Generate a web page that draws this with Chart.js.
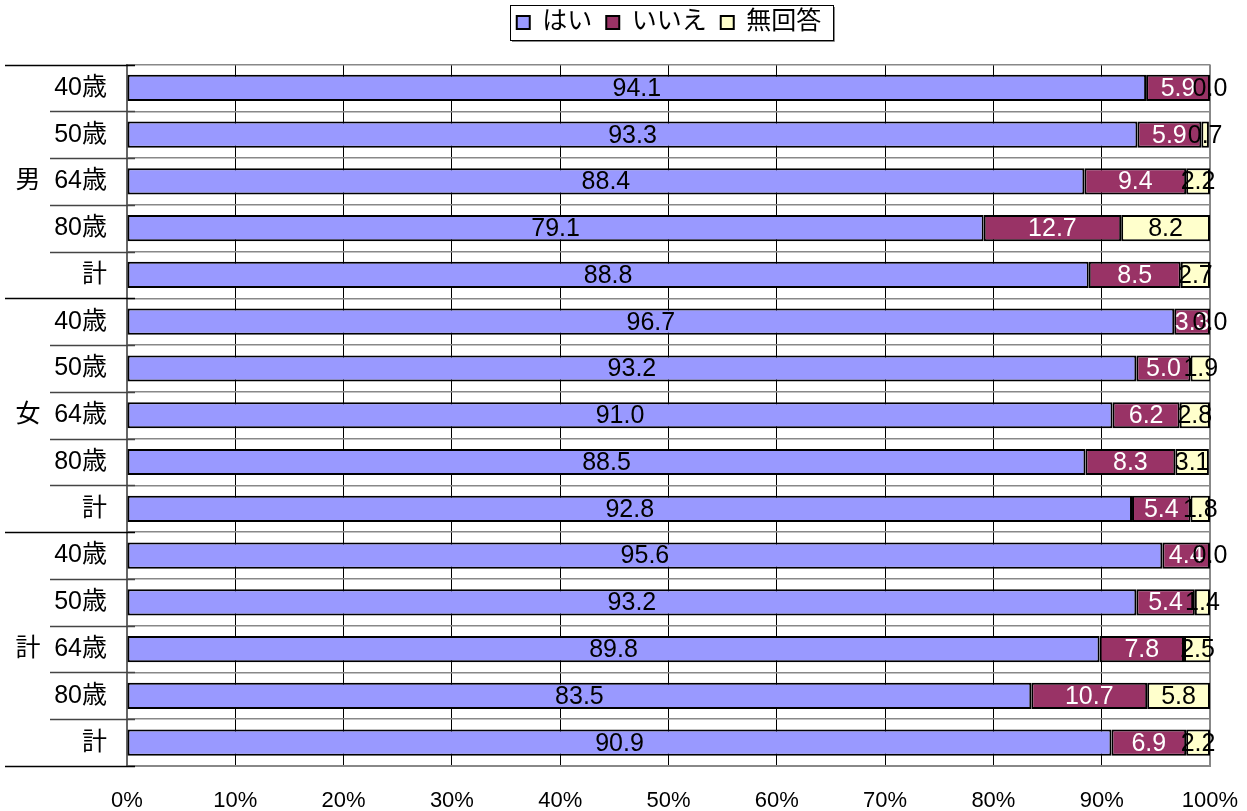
<!DOCTYPE html>
<html>
<head>
<meta charset="utf-8">
<script src="https://cdn.jsdelivr.net/npm/chart.js@4"></script>
<style>
body{margin:0;background:#fff}
#wrap{width:1247px;height:811px}
</style>
</head>
<body>
<div id="wrap"><canvas id="chart"></canvas></div>
<script>
"use strict";

const categories = ["40歳","50歳","64歳","80歳","計","40歳","50歳","64歳","80歳","計","40歳","50歳","64歳","80歳","計"];
const groups = ["男","女","計"];
const seriesNames = ["はい","いいえ","無回答"];
const yesValues = [94.1,93.3,88.4,79.1,88.8, 96.7,93.2,91.0,88.5,92.8, 95.6,93.2,89.8,83.5,90.9];
const noValues = [5.9,5.9,9.4,12.7,8.5, 3.3,5.0,6.2,8.3,5.4, 4.4,5.4,7.8,10.7,6.9];
const naValues = [0.0,0.7,2.2,8.2,2.7, 0.0,1.9,2.8,3.1,1.8, 0.0,1.4,2.5,5.8,2.2];
const xTicks = [0,10,20,30,40,50,60,70,80,90,100];

const FAMILY = "'Liberation Sans Narrow', 'Liberation Sans', 'Noto Sans CJK JP', sans-serif";
const FONT_SIZE = 25;

// ラベルを各セグメントの中央に描く
const valueLabels = {
	id: "valueLabels",
	afterDatasetsDraw(chart) {
		const ctx = chart.ctx;
		ctx.save();
		ctx.font = FONT_SIZE + "px " + FAMILY;
		ctx.textAlign = "center";
		ctx.textBaseline = "middle";
		chart.data.datasets.forEach(function (ds, i) {
			const meta = chart.getDatasetMeta(i);
			ctx.fillStyle = i === 1 ? "#fff" : "#000";
			meta.data.forEach(function (bar, j) {
				const x = (bar.x + bar.base) / 2;
				ctx.fillText(ds.data[j].toFixed(1), x, bar.y + 1);
			});
		});
		ctx.restore();
	}
};

// 凡例の枠の寸法（項目の当たり判定から）
function legendFrame(boxes) {
	return {
		l: Math.min(...boxes.map(b => b.left)) - 7,
		r: Math.max(...boxes.map(b => b.left + b.width)) + 12,
		t: Math.min(...boxes.map(b => b.top)) - 5,
		b: Math.max(...boxes.map(b => b.top + b.height)) + 5
	};
}

// 凡例をプロットの上に中央寄せして上へ詰める
const legendPlace = {
	id: "legendPlace",
	afterUpdate(chart) {
		const lg = chart.legend;
		if (!lg || !lg.legendHitBoxes || !lg.legendHitBoxes.length) return;
		const area = chart.chartArea;
		const f = legendFrame(lg.legendHitBoxes);
		const dx = (area.left + area.right) / 2 + 3 - (f.l + f.r) / 2;
		const dy = 5 - f.t;
		lg.left += dx;
		lg.right += dx;
		lg.top += dy;
		lg.bottom += dy;
		lg.legendHitBoxes.forEach(function (b) {
			b.left += dx;
			b.top += dy;
		});
	}
};

// 男/女/計 のグループ表示と区切り線、凡例の枠
const groupLabels = {
	id: "groupLabels",
	afterDraw(chart) {
		const ctx = chart.ctx;
		const y = chart.scales.y;
		const left = chart.chartArea.left;
		ctx.save();
		for (let i = 0; i <= categories.length; i++) {
			const yy = Math.round(y.getPixelForValue(i - 0.5)) + 0.5;
			ctx.strokeStyle = i % 5 === 0 ? "#000" : "#444";
			ctx.lineWidth = 1.5;
			ctx.beginPath();
			ctx.moveTo(i % 5 === 0 ? 5 : 50, yy);
			ctx.lineTo(left + 8, yy);
			ctx.stroke();
		}
		ctx.font = FONT_SIZE + "px " + FAMILY;
		ctx.fillStyle = "#000";
		ctx.textAlign = "center";
		ctx.textBaseline = "middle";
		groups.forEach(function (g, k) {
			ctx.fillText(g, 28, y.getPixelForValue(k * 5 + 2));
		});

		const boxes = chart.legend.legendHitBoxes;
		if (boxes && boxes.length) {
			const f = legendFrame(boxes);
			const l = Math.round(f.l), r = Math.round(f.r), t = Math.round(f.t), b = Math.round(f.b);
			ctx.strokeStyle = "#000";
			ctx.lineWidth = 1;
			ctx.strokeRect(l + 0.5, t + 0.5, r - l, b - t);
			ctx.strokeStyle = "#888";
			ctx.beginPath();
			ctx.moveTo(l + 2, b + 1.5);
			ctx.lineTo(r + 1.5, b + 1.5);
			ctx.lineTo(r + 1.5, t + 2);
			ctx.stroke();
		}
		ctx.restore();
	}
};

const colors = ["#9999ff", "#993366", "#ffffcc"];
const seriesData = [yesValues, noValues, naValues];

const chart = new Chart(document.getElementById("chart"), {
	type: "bar",
	data: {
		labels: categories,
		datasets: seriesNames.map(function (name, i) {
			return {
				label: name,
				data: seriesData[i],
				backgroundColor: colors[i],
				borderColor: "#000",
				borderWidth: 2,
				borderSkipped: false,
				categoryPercentage: 1,
				barPercentage: 0.56
			};
		})
	},
	options: {
		indexAxis: "y",
		responsive: true,
		maintainAspectRatio: false,
		animation: false,
		layout: { padding: { top: 15.5, right: 37, left: 0, bottom: 0 } },
		plugins: {
			legend: {
				position: "top",
				labels: {
					color: "#000",
					boxWidth: 13,
					boxHeight: 13,
					padding: 14,
					font: { size: FONT_SIZE, family: FAMILY }
				}
			},
			tooltip: { enabled: false }
		},
		scales: {
			x: {
				stacked: true,
				min: 0,
				max: 100,
				afterBuildTicks: function (scale) {
					scale.ticks = xTicks.map(v => ({ value: v }));
				},
				afterFit: function (scale) {
					scale.height = 45;
					scale.paddingLeft = 0;
					scale.paddingRight = 0;
				},
				grid: {
					color: ctx => (ctx.tick && ctx.tick.value === 100) ? "#888" : "#000",
					lineWidth: ctx => (ctx.tick && ctx.tick.value === 100) ? 2 : 1,
					drawTicks: false
				},
				border: { color: "#888", width: 2 },
				ticks: {
					color: "#000",
					padding: 22,
					maxRotation: 0,
					font: { size: FONT_SIZE - 3, family: FAMILY },
					callback: v => v + "%"
				}
			},
			y: {
				stacked: true,
				afterFit: function (scale) { scale.width = 127; },
				grid: {
					offset: true,
					color: "#888",
					lineWidth: 1.5,
					drawTicks: false
				},
				border: { color: "#666", width: 2 },
				ticks: {
					color: "#000",
					padding: 20,
					font: { size: FONT_SIZE, family: FAMILY }
				}
			}
		}
	},
	plugins: [valueLabels, legendPlace, groupLabels]
});
</script>
</body>
</html>
